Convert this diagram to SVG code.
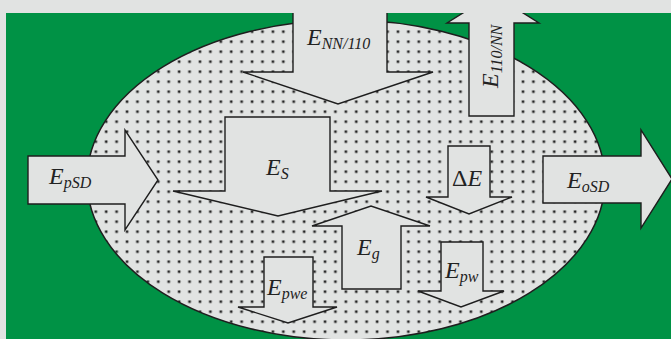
<svg xmlns="http://www.w3.org/2000/svg" width="671" height="339" viewBox="0 0 671 339">
<style>
.arrow{fill:#e1e3e2;stroke:#1e1e1e;stroke-width:1.4;stroke-linejoin:miter}
.t{font-family:"Liberation Serif","Times New Roman",serif;font-style:italic;font-size:24px;fill:#222}
.s{font-size:16px}
</style>
<defs>
<pattern id="dots" patternUnits="userSpaceOnUse" x="0" y="0" width="10.42" height="10">
<circle cx="2" cy="1.7" r="2" fill="#a8a9a8"/>
<circle cx="2" cy="1.7" r="1.1" fill="#222"/>
</pattern>
<clipPath id="clip"><rect x="6" y="13" width="665" height="326"/></clipPath>
</defs>
<rect width="671" height="339" fill="#e1e3e2"/>
<rect x="6" y="13" width="665" height="326" fill="#009245"/>
<g clip-path="url(#clip)">
<g id="region">
<ellipse cx="346" cy="180" rx="259" ry="160" fill="#e1e3e2"/>
<ellipse cx="346" cy="180" rx="259" ry="160" fill="url(#dots)" stroke="#1e1e1e" stroke-width="1.5"/>
</g>
<g id="connectors"></g>
<g id="E_pSD">
<polygon class="arrow" points="28,156 125,156 125,130 158,180 125,230 125,204 28,204"/>
<text class="t" x="49" y="184">E<tspan class="s" dy="4">pSD</tspan></text>
</g>
<g id="E_oSD">
<polygon class="arrow" points="543,156 641,156 641,130 672,179 641,228 641,203 543,203"/>
<text class="t" x="567" y="188">E<tspan class="s" dy="4">oSD</tspan></text>
</g>
<g id="E_NN110">
<polygon class="arrow" points="293,0 293,72 243,72 338,104 433,72 387,72 387,0"/>
<text class="t" x="307" y="45">E<tspan class="s" dy="4">NN/110</tspan></text>
</g>
<g id="E_110NN">
<polygon class="arrow" points="469,116 469,23 447,23 493,-6 539,23 514,23 514,116"/>
<text class="t" transform="translate(498,88) rotate(-90)">E<tspan class="s" dy="4">110/NN</tspan></text>
</g>
<g id="E_S">
<polygon class="arrow" points="225,117 330,117 330,191 382,191 278,216 173,191 225,191"/>
<text class="t" x="266" y="175">E<tspan class="s" dy="4">S</tspan></text>
</g>
<g id="DeltaE">
<polygon class="arrow" points="448,146 490,146 490,197 512,197 469,214 426,197 448,197"/>
<text class="t" x="452" y="186"><tspan font-style="normal">Δ</tspan>E</text>
</g>
<g id="E_g">
<polygon class="arrow" points="342,289 342,226 312,226 371,206 430,226 401,226 401,289"/>
<text class="t" x="357" y="255">E<tspan class="s" dy="4">g</tspan></text>
</g>
<g id="E_pwe">
<polygon class="arrow" points="264,257 313,257 313,307 337,307 288,323 238,307 264,307"/>
<text class="t" x="267" y="295">E<tspan class="s" dy="4">pwe</tspan></text>
</g>
<g id="E_pw">
<polygon class="arrow" points="441,242 483,242 483,291 504,291 461,307 418,291 441,291"/>
<text class="t" x="445" y="278">E<tspan class="s" dy="4">pw</tspan></text>
</g>
</g>
</svg>
